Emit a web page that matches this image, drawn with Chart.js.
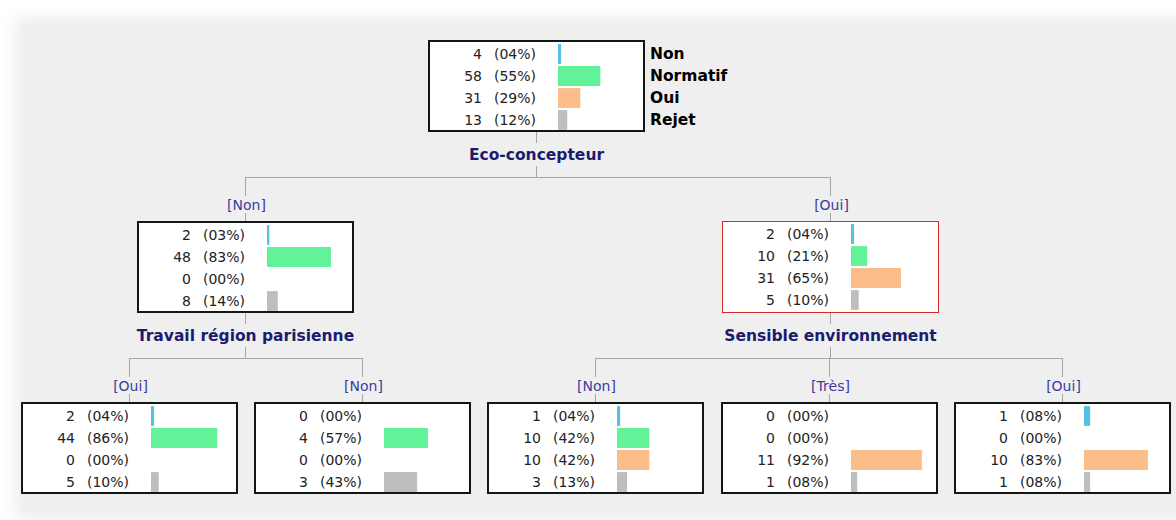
<!DOCTYPE html>
<html>
<head>
<meta charset="utf-8">
<script src="https://cdn.jsdelivr.net/npm/chart.js@4"></script>
<style>
  body { margin: 0; background: #fff; width: 1176px; height: 520px; position: relative; overflow: hidden;
         font-family: "DejaVu Sans", sans-serif; }
  #panel { position: absolute; left: 22px; top: 24px; width: 1170px; height: 488px; background: #efefef;
           box-shadow: 0 0 14px 8px #efefef; }
  #links { position: absolute; left: 0; top: 0; }
  .node { position: absolute; width: 217px; height: 92px; box-sizing: border-box; background: #fff;
          border: 2px solid #151515; }
  .node.hl { border-color: #d42a2a; border-width: 1.5px; }
  .node canvas { position: absolute; left: 128px; top: 1px; }
  .cnt, .pct { position: absolute; font-size: 14px; line-height: 22px; color: #222; white-space: nowrap; }
  .cnt { text-align: right; width: 52px; left: 0; }
  .pct { left: 64px; }
  .cls { position: absolute; font-size: 15.5px; font-weight: bold; color: #000; line-height: 22px; }
  .lbl { position: absolute; transform: translate(-50%, -50%); white-space: nowrap; }
  .split { font-size: 15.5px; font-weight: bold; color: #1c1c6e; }
  .edge { font-size: 14px; color: #3c3c9c; }
</style>
</head>
<body>
<div id="panel"></div>
<svg id="links" width="1176" height="520"></svg>
<div id="tree"></div>
<script>
// classes de la variable cible
const classLabels = ["Non", "Normatif", "Oui", "Rejet"];
const classColors = ["#56bfe2", "#62f39a", "#fbbe8b", "#bebebe"];

// effectifs et pourcentages lus sur chaque noeud
const rootCounts = [4, 58, 31, 13];
const rootPct = [4, 55, 29, 12];
const ecoNonCounts = [2, 48, 0, 8];
const ecoNonPct = [3, 83, 0, 14];
const ecoOuiCounts = [2, 10, 31, 5];
const ecoOuiPct = [4, 21, 65, 10];
const parisOuiCounts = [2, 44, 0, 5];
const parisOuiPct = [4, 86, 0, 10];
const parisNonCounts = [0, 4, 0, 3];
const parisNonPct = [0, 57, 0, 43];
const sensNonCounts = [1, 10, 10, 3];
const sensNonPct = [4, 42, 42, 13];
const sensTresCounts = [0, 0, 11, 1];
const sensTresPct = [0, 0, 92, 8];
const sensOuiCounts = [1, 0, 10, 1];
const sensOuiPct = [8, 0, 83, 8];

const splitLabels = ["Eco-concepteur", "Travail région parisienne", "Sensible environnement"];
const ecoEdges = ["[Non]", "[Oui]"];
const parisEdges = ["[Oui]", "[Non]"];
const sensEdges = ["[Non]", "[Très]", "[Oui]"];

// position des boites (coin haut-gauche)
const nodes = [
  { counts: rootCounts, pct: rootPct, x: 428, y: 40 },
  { counts: ecoNonCounts, pct: ecoNonPct, x: 137, y: 221, edge: ecoEdges[0] },
  { counts: ecoOuiCounts, pct: ecoOuiPct, x: 722, y: 221, edge: ecoEdges[1], highlight: true },
  { counts: parisOuiCounts, pct: parisOuiPct, x: 21, y: 402, edge: parisEdges[0] },
  { counts: parisNonCounts, pct: parisNonPct, x: 254, y: 402, edge: parisEdges[1] },
  { counts: sensNonCounts, pct: sensNonPct, x: 487, y: 402, edge: sensEdges[0] },
  { counts: sensTresCounts, pct: sensTresPct, x: 721, y: 402, edge: sensEdges[1] },
  { counts: sensOuiCounts, pct: sensOuiPct, x: 954, y: 402, edge: sensEdges[2] }
];

const tree = document.getElementById("tree");
const svg = document.getElementById("links");
const pad2 = n => (n < 10 ? "0" + n : "" + n);

function addLabel(text, cls, x, y) {
  const d = document.createElement("div");
  d.className = "lbl " + cls;
  d.style.left = x + "px";
  d.style.top = y + "px";
  d.textContent = text;
  tree.appendChild(d);
}

function line(x1, y1, x2, y2) {
  const l = document.createElementNS("http://www.w3.org/2000/svg", "line");
  l.setAttribute("x1", x1); l.setAttribute("y1", y1);
  l.setAttribute("x2", x2); l.setAttribute("y2", y2);
  l.setAttribute("stroke", "#a6a6a6");
  l.setAttribute("stroke-width", "1");
  l.setAttribute("shape-rendering", "crispEdges");
  svg.appendChild(l);
}

const center = n => n.x + 108.5;

// ---------- boites ----------
nodes.forEach(n => {
  const box = document.createElement("div");
  box.className = "node" + (n.highlight ? " hl" : "");
  box.style.left = n.x + "px";
  box.style.top = n.y + "px";

  n.counts.forEach((c, i) => {
    const cnt = document.createElement("div");
    cnt.className = "cnt";
    cnt.style.top = (1 + i * 22) + "px";
    cnt.textContent = c;
    const pct = document.createElement("div");
    pct.className = "pct";
    pct.style.top = (1 + i * 22) + "px";
    pct.textContent = "(" + pad2(n.pct[i]) + "%)";
    box.appendChild(cnt);
    box.appendChild(pct);
  });

  const cv = document.createElement("canvas");
  cv.width = 77;
  cv.height = 88;
  cv.style.width = "77px";
  cv.style.height = "88px";
  box.appendChild(cv);
  tree.appendChild(box);

  new Chart(cv, {
    type: "bar",
    data: {
      labels: classLabels,
      datasets: [{
        data: n.pct,
        backgroundColor: classColors,
        borderWidth: 0,
        barPercentage: 0.9,
        categoryPercentage: 1
      }]
    },
    options: {
      indexAxis: "y",
      responsive: false,
      animation: false,
      layout: { padding: 0 },
      plugins: { legend: { display: false }, tooltip: { enabled: false } },
      scales: {
        x: { display: false, min: 0, max: 100 },
        y: { display: false }
      }
    }
  });
});

// libelles des classes a droite de la racine
classLabels.forEach((t, i) => {
  const d = document.createElement("div");
  d.className = "cls";
  d.style.left = "650px";
  d.style.top = (43 + i * 22) + "px";
  d.textContent = t;
  tree.appendChild(d);
});

// ---------- liens et libelles ----------
function split(parent, children, label) {
  const cx = center(parent);
  const by = parent.y + 92;
  line(cx, by, cx, by + 11);
  addLabel(label, "split", cx, by + 23);
  const hy = by + 45;
  line(cx, by + 34, cx, hy);
  line(center(children[0]), hy, center(children[children.length - 1]), hy);
  children.forEach(ch => {
    const x = center(ch);
    line(x, hy, x, hy + 19);
    addLabel(ch.edge, "edge", x + 1, hy + 28);
    line(x, hy + 36, x, ch.y);
  });
}

split(nodes[0], [nodes[1], nodes[2]], splitLabels[0]);
split(nodes[1], [nodes[3], nodes[4]], splitLabels[1]);
split(nodes[2], [nodes[5], nodes[6], nodes[7]], splitLabels[2]);
</script>
</body>
</html>
